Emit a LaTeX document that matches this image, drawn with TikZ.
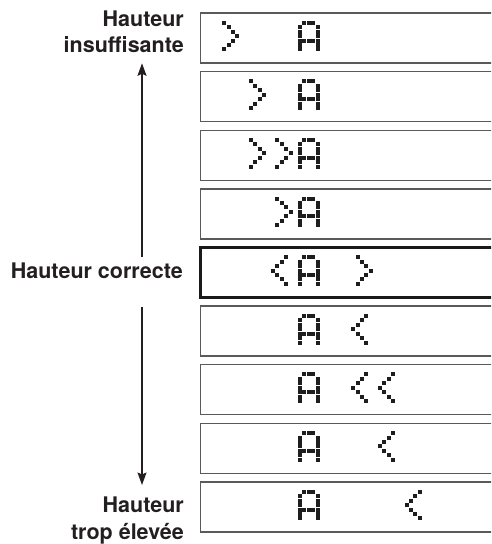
\documentclass[tikz,border=0pt]{standalone}
\usepackage{fontspec}
\setmainfont{TeX Gyre Heros}
\usetikzlibrary{arrows.meta}
\definecolor{ink}{HTML}{231F20}
\definecolor{boxc}{HTML}{5A5A5A}
\definecolor{boxd}{HTML}{1A1A1A}
\definecolor{dotc}{HTML}{1E1E1E}
\def\gA{1/0,2/0,3/0,0/1,4/1,0/2,4/2,0/3,4/3,0/4,1/4,2/4,3/4,4/4,0/5,4/5,0/6,4/6}
\def\gR{1/0,2/1,3/2,4/3,3/4,2/5,1/6}
\def\gL{3/0,2/1,1/2,0/3,1/4,2/5,3/6}
\newcommand{\lcdglyph}[3]{%
  \foreach \c/\r in #3 {\fill[dotc] ({297.7+(#1)*26.7+\c*4.45},{20.7+(#2-1)*58.625+\r*4.45}) rectangle ++(4,4);}}
\begin{document}
\begin{tikzpicture}[x=1pt,y=-1pt,
  lcd/.style={draw=boxc,line width=1.3pt,minimum width=320pt,minimum height=50pt,anchor=north west,inner sep=0pt,outer sep=0pt},
  lcdmid/.style={lcd,draw=boxd,line width=2.2pt},
  lab/.style={font=\bfseries\fontsize{21.5}{26}\selectfont,text=ink,anchor=base east,inner sep=0pt},
  arr/.style={draw=ink,line width=1.1pt,-{Stealth[length=12.5pt,width=9pt,inset=2pt]}}]
\useasboundingbox (0,0) rectangle (491,544);
\clip (0,0) rectangle (491,544);
% display boxes
\node[lcd]    (b1) at (200.5,13) {};
\node[lcd]    (b2) at (200.5,71.625) {};
\node[lcd]    (b3) at (200.5,130.25) {};
\node[lcd]    (b4) at (200.5,188.875) {};
\node[lcdmid] (b5) at (200.5,247.5) {};
\node[lcd]    (b6) at (200.5,306.125) {};
\node[lcd]    (b7) at (200.5,364.75) {};
\node[lcd]    (b8) at (200.5,423.375) {};
\node[lcd]    (b9) at (200.5,482) {};
% dot-matrix characters
\foreach \i in {1,...,9} {\lcdglyph{0}{\i}{\gA}}
\lcdglyph{-3}{1}{\gR}
\lcdglyph{-2}{2}{\gR}
\lcdglyph{-2}{3}{\gR}\lcdglyph{-1}{3}{\gR}
\lcdglyph{-1}{4}{\gR}
\lcdglyph{-1}{5}{\gL}\lcdglyph{2}{5}{\gR}
\lcdglyph{2}{6}{\gL}
\lcdglyph{2}{7}{\gL}\lcdglyph{3}{7}{\gL}
\lcdglyph{3}{8}{\gL}
\lcdglyph{4}{9}{\gL}
% labels
\node[lab] (hi1) at (184,26) {Hauteur};
\node[lab] (hi2) at (184,52.7) {insuffisante};
\node[lab] (mid) at (183,278.3) {Hauteur correcte};
\node[lab] (lo1) at (184,512.7) {Hauteur};
\node[lab] (lo2) at (184,539.3) {trop élevée};
% arrows
\coordinate (upStart) at (142,256.7);
\coordinate (upTip) at (142,63.3);
\coordinate (dnStart) at (142,307);
\coordinate (dnTip) at (142,485);
\draw[arr] (upStart) -- (upTip);
\draw[arr] (dnStart) -- (dnTip);
\end{tikzpicture}
\end{document}
